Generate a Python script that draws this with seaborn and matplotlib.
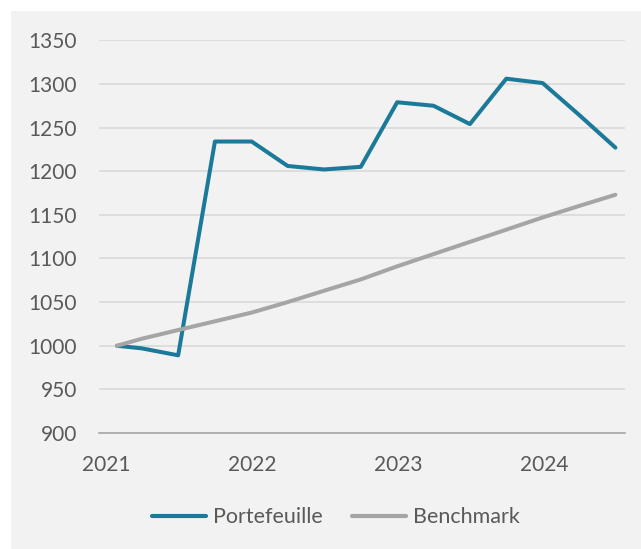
import matplotlib
matplotlib.use("Agg")
from matplotlib import pyplot as plt
from matplotlib.patches import Rectangle
import matplotlib.dates as mdates
import pandas as pd
import seaborn as sns

# Data (quarterly values, base 1000)
dates = ["2021-01-28", "2021-03-31", "2021-06-30", "2021-09-30", "2021-12-31",
         "2022-03-31", "2022-06-30", "2022-09-30", "2022-12-30",
         "2023-03-31", "2023-06-30", "2023-09-29", "2023-12-29",
         "2024-03-28", "2024-06-28"]
portefeuille = [1000, 997, 989, 1234, 1234, 1206, 1202, 1205, 1279,
                1275, 1254, 1306, 1301, 1265, 1227]
benchmark = [1000, 1008, 1018, 1028, 1038, 1050, 1063, 1076, 1091,
             1105, 1119, 1133, 1147, 1160, 1173]
series_names = ["Portefeuille", "Benchmark"]
year_ticks = ["2021-01-01", "2022-01-01", "2023-01-01", "2024-01-01"]
y_ticks = [900, 950, 1000, 1050, 1100, 1150, 1200, 1250, 1300, 1350]

df = pd.DataFrame({
    "Date": pd.to_datetime(dates * 2),
    "Valeur": portefeuille + benchmark,
    "Serie": [series_names[0]] * len(dates) + [series_names[1]] * len(dates),
})

sns.set_style("white")
plt.rcParams["font.family"] = ["Lato", "DejaVu Sans"]
text_col = "#595959"

fig = plt.figure(figsize=(6.41, 5.49), dpi=100)
fig.patch.set_facecolor("white")
fig.add_artist(Rectangle((11 / 641, 0), 1 - 11 / 641, 1 - 11 / 549,
                         transform=fig.transFigure, facecolor="#F2F2F2",
                         edgecolor="none", zorder=0))

ax = fig.add_axes([99 / 641, 1 - 433 / 549, (625 - 99) / 641, (433 - 40.3) / 549])
ax.set_facecolor("none")

sns.lineplot(data=df, x="Date", y="Valeur", hue="Serie", ax=ax,
             palette={"Portefeuille": "#1B7A99", "Benchmark": "#A5A5A5"},
             linewidth=2.9, solid_capstyle="round", solid_joinstyle="round")

ax.set_ylim(900, 1350)
ax.set_yticks(y_ticks)
ax.set_xlim(pd.Timestamp("2020-12-14"), pd.Timestamp("2024-07-22"))
ax.set_xticks(pd.to_datetime(year_ticks))
ax.xaxis.set_major_formatter(mdates.DateFormatter("%Y"))

ax.grid(axis="y", color="#D9D9D9", linewidth=1.2)
ax.set_axisbelow(True)
for s in ["top", "right", "left"]:
    ax.spines[s].set_visible(False)
ax.spines["bottom"].set_color("#A6A6A6")
ax.spines["bottom"].set_linewidth(1.2)

ax.tick_params(axis="y", length=0, pad=16, labelsize=15, labelcolor=text_col)
ax.tick_params(axis="x", length=0, pad=16, labelsize=15, labelcolor=text_col)
ax.set_xlabel("")
ax.set_ylabel("")

handles, labels = ax.get_legend_handles_labels()
ax.get_legend().remove()
leg = fig.legend(handles, labels, loc="center", bbox_to_anchor=(0.524, 0.058),
                 ncol=2, frameon=False, fontsize=15.5, handlelength=2.5,
                 handletextpad=0.3, columnspacing=1.4)
for t in leg.get_texts():
    t.set_color(text_col)
for line in leg.get_lines():
    line.set_linewidth(3)

fig.savefig("out.png", dpi=100)
